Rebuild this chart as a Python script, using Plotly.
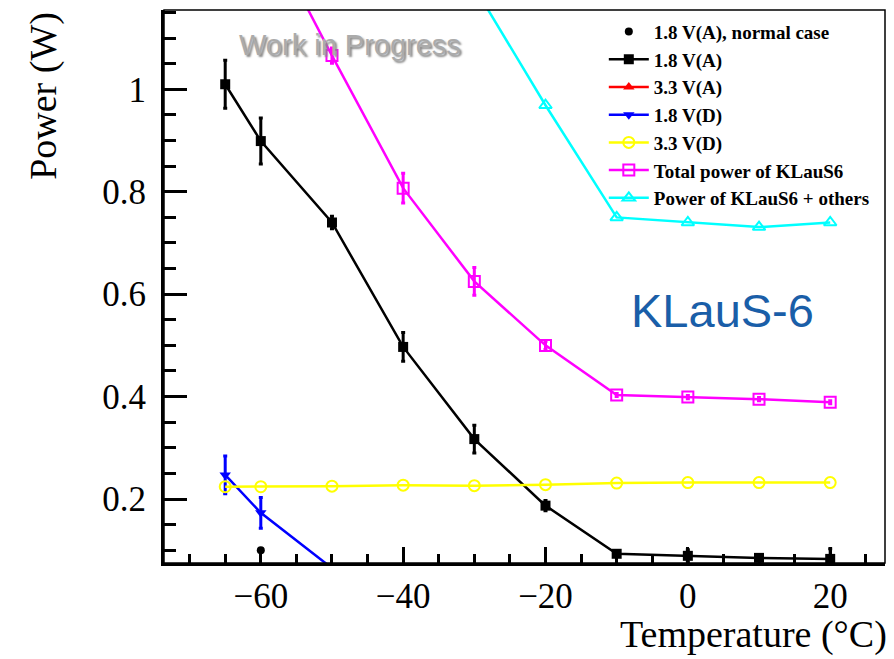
import plotly.graph_objects as go

# Temperature scan points (deg C)
temps = [-65, -60, -50, -40, -30, -20, -10, 0, 10, 20]

# Single reference point at normal conditions
normal_temp = [-60]
normal_p18a = [0.100]

# Power per supply rail (W)
p18a = [1.010, 0.899, 0.740, 0.497, 0.317, 0.187, 0.093, 0.089, 0.085, 0.083]
p18a_err = [0.047, 0.045, 0.012, 0.028, 0.027, 0.010, 0.005, 0.012, 0.005, 0.020]

p33a = [0.037, 0.037, 0.036, 0.036, 0.035, 0.035, 0.035, 0.035, 0.035, 0.035]
p33a_err = [0.003, 0.003, 0.003, 0.003, 0.003, 0.003, 0.003, 0.003, 0.003, 0.003]

p18d = [0.247, 0.173, 0.065, 0.050, 0.048, 0.047, 0.045, 0.044, 0.043, 0.042]
p18d_err = [0.037, 0.030, 0.005, 0.004, 0.004, 0.004, 0.004, 0.004, 0.004, 0.004]

p33d = [0.224, 0.224, 0.225, 0.227, 0.226, 0.228, 0.231, 0.232, 0.232, 0.232]

p_total = [1.517, 1.333, 1.066, 0.807, 0.625, 0.500, 0.403, 0.399, 0.395, 0.389]
p_total_err = [0.050, 0.045, 0.015, 0.029, 0.027, 0.008, 0.003, 0.003, 0.003, 0.003]

temps_others = [-30, -20, -10, 0, 10, 20]
p_others = [1.200, 0.969, 0.750, 0.740, 0.731, 0.740]

x_range = [-73.6, 27.7]
y_range = [0.075, 1.155]
x_ticks = [-60, -40, -20, 0, 20]
y_ticks = [0.2, 0.4, 0.6, 0.8, 1.0]
y_ticktext = ["0.2", "0.4", "0.6", "0.8", "1"]

SERIF = "Liberation Serif, Times New Roman, serif"
SANS = "Liberation Sans, Arial, sans-serif"

fig = go.Figure()


def err(vals, color):
    return dict(type="data", array=vals, visible=True, color=color,
                thickness=3, width=2)


fig.add_trace(go.Scatter(
    x=normal_temp, y=normal_p18a, mode="markers", name="1.8 V(A), normal case",
    marker=dict(symbol="circle", size=8, color="black")))

fig.add_trace(go.Scatter(
    x=temps, y=p18a, mode="lines+markers", name="1.8 V(A)",
    line=dict(color="black", width=2.5),
    marker=dict(symbol="square", size=10, color="black"),
    error_y=err(p18a_err, "black")))

fig.add_trace(go.Scatter(
    x=temps, y=p33a, mode="lines+markers", name="3.3 V(A)",
    line=dict(color="#ff0000", width=2.5),
    marker=dict(symbol="triangle-up", size=10, color="#ff0000"),
    error_y=err(p33a_err, "#ff0000")))

fig.add_trace(go.Scatter(
    x=temps, y=p18d, mode="lines+markers", name="1.8 V(D)",
    line=dict(color="#0000ff", width=2.5),
    marker=dict(symbol="triangle-down", size=10, color="#0000ff"),
    error_y=err(p18d_err, "#0000ff")))

fig.add_trace(go.Scatter(
    x=temps, y=p33d, mode="lines+markers", name="3.3 V(D)",
    line=dict(color="#ffff00", width=2.5),
    marker=dict(symbol="circle-open", size=11, color="#ffff00",
                line=dict(width=2))))

fig.add_trace(go.Scatter(
    x=temps, y=p_total, mode="lines+markers", name="Total power of KLauS6",
    line=dict(color="#ff00ff", width=2.5),
    marker=dict(symbol="square-open", size=11, color="#ff00ff",
                line=dict(width=2)),
    error_y=err(p_total_err, "#ff00ff")))

fig.add_trace(go.Scatter(
    x=temps_others, y=p_others, mode="lines+markers",
    name="Power of KLauS6 + others",
    line=dict(color="#00ffff", width=2.5),
    marker=dict(symbol="triangle-up-open", size=11, color="#00ffff",
                line=dict(width=2))))

axis_common = dict(
    showgrid=False, zeroline=False, ticks="inside", tickcolor="black",
    showline=True, linecolor="black", linewidth=3,
    tickfont=dict(family=SERIF, size=35, color="black"),
)

fig.update_xaxes(
    range=x_range, tickvals=x_ticks, ticklen=16, tickwidth=2.5,
    ticklabelstandoff=0,
    minor=dict(dtick=5, ticks="inside", ticklen=9, tickwidth=2.5,
               tickcolor="black"),
    **axis_common)
fig.update_yaxes(
    range=y_range, tickvals=y_ticks, ticktext=y_ticktext, ticklen=23,
    tickwidth=2.5, ticklabelstandoff=8,
    minor=dict(dtick=0.05, ticks="inside", ticklen=12, tickwidth=2.5,
               tickcolor="black"),
    **axis_common)

fig.update_layout(
    width=894, height=659,
    margin=dict(l=164, r=9, t=10, b=96),
    plot_bgcolor="white", paper_bgcolor="white",
    showlegend=True,
    legend=dict(
        x=0.61, y=0.995, xanchor="left", yanchor="top",
        bgcolor="rgba(255,255,255,0)", borderwidth=0,
        font=dict(family=SERIF, size=19, color="black", weight="bold"),
        tracegroupgap=0, itemwidth=40,
    ),
    shapes=[dict(type="rect", xref="paper", yref="paper", x0=0, x1=1,
                 y0=0, y1=1, line=dict(color="black", width=1.5),
                 layer="above")],
    annotations=[
        dict(text="Temperature (°C)", xref="paper", yref="paper",
             x=1.005, y=-0.13, xanchor="right", yanchor="middle",
             showarrow=False, font=dict(family=SERIF, size=38, color="black")),
        dict(text="Power (W)", xref="paper", yref="paper", textangle=-90,
             x=-0.168, y=1.0, xanchor="center", yanchor="top",
             showarrow=False, font=dict(family=SERIF, size=38, color="black")),
        dict(text="Work in Progress", xref="paper", yref="paper",
             x=0.258, y=0.936, xanchor="center", yanchor="middle",
             showarrow=False,
             font=dict(family=SANS, size=29, color="#ababab",
                       shadow="2px 2px 2px #888888")),
        dict(text="KLauS-6", xref="paper", yref="paper",
             x=0.775, y=0.457, xanchor="center", yanchor="middle",
             showarrow=False,
             font=dict(family=SANS, size=47, color="#1a5ea8")),
    ],
)

fig.write_html("out.html")
